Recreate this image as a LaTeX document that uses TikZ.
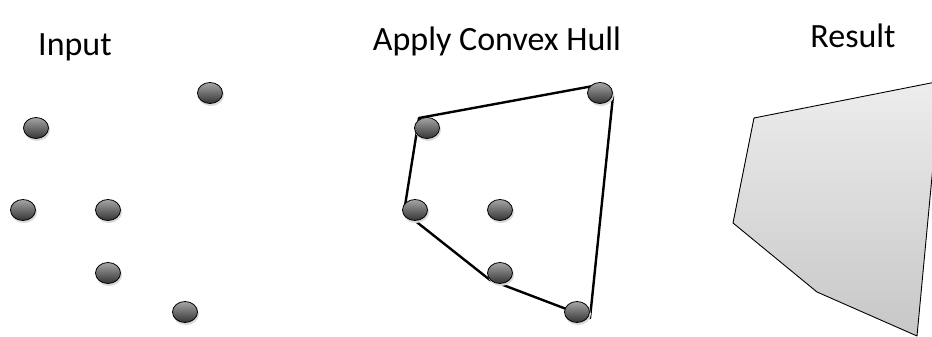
\documentclass[tikz,border=0pt]{standalone}
\usepackage{fontspec}
\setmainfont{Carlito}
\usetikzlibrary{shapes.geometric}
\begin{document}
\begin{tikzpicture}[x=1pt,y=-1pt,
  ball/.style={ellipse,minimum width=25pt,minimum height=21pt,inner sep=0pt,draw=black,line width=0.8pt,
    top color=black!35,bottom color=black!80},
  title/.style={font=\fontsize{34}{40}\selectfont,anchor=base},
  hull/.style={line width=2.4pt,line join=round}]
\useasboundingbox (0,0) rectangle (932,337);
\begin{scope}
\clip (0,0) rectangle (932,337);
\node[title] (t1) at (75,56) {Input};
\node[title] (t2) at (497,51) {Apply Convex Hull};
\node[title] (t3) at (853,48) {Result};
% input balls
\foreach \n/\x/\y in {a/210/93, b/36/128, c/23/210, d/108/210, e/108/273, f/185/312}{
  \fill[black!15] (\x+1,\y+2) ellipse (13pt and 11pt);
  \node[ball] (i\n) at (\x,\y) {};
}
% hull
\coordinate (h1) at (419,118);
\coordinate (h2) at (604,84);
\coordinate (h3) at (613,96);
\coordinate (h4) at (590,318);
\coordinate (h5) at (490,280);
\coordinate (h6) at (404,212);
\draw[hull] (h1) -- (h2) -- (h3) -- (h4) -- (h5) -- (h6) -- cycle;
\foreach \n/\x/\y in {a/600/93, b/427/128, c/415/210, d/500/210, e/500/273, f/577/312}{
  \fill[black!15] (\x+1,\y+2) ellipse (13pt and 11pt);
  \node[ball] (p\n) at (\x,\y) {};
}
% result
\coordinate (r1) at (754,118);
\coordinate (r2) at (941,81);
\coordinate (r3) at (917,336);
\coordinate (r4) at (817,292);
\coordinate (r5) at (733,223);
\draw[line width=0.9pt,top color=black!7,bottom color=black!22,line join=round]
  (r1) -- (r2) -- (r3) -- (r4) -- (r5) -- cycle;
\end{scope}
\end{tikzpicture}
\end{document}
